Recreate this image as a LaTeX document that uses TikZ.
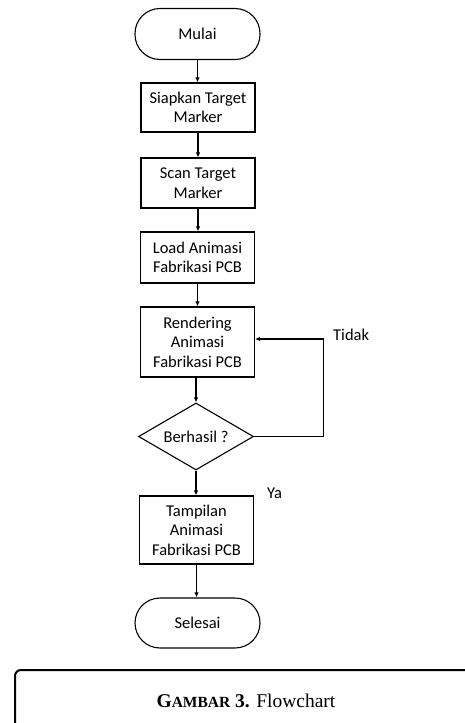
\documentclass[tikz,border=0pt]{standalone}
\usepackage{fontspec}
\setmainfont{Carlito}
\newfontfamily\capfont{Liberation Serif}
\usetikzlibrary{shapes.geometric,arrows.meta}

\tikzset{
  base/.style={draw=black, line width=1.1pt, align=center, inner sep=2pt,
               font=\fontsize{16.5}{19.5}\selectfont},
  terminal/.style={base, rectangle, rounded corners=25pt,
                   minimum width=125pt, minimum height=51pt},
  process/.style={base, rectangle, minimum width=114pt},
  decision/.style={base, diamond, inner sep=0pt, shape aspect=1.7,
                   minimum width=115pt, minimum height=67pt},
  flow/.style={draw=black, line width=1.1pt, -{Latex[length=5pt,width=4.5pt]}},
  lbl/.style={font=\fontsize{16.5}{19}\selectfont, inner sep=0pt},
}

\begin{document}
\begin{tikzpicture}[x=1pt, y=-1pt]
  \useasboundingbox (0,0) rectangle (465,723);

  % flowchart nodes
  \node[terminal] (mulai) at (197.5,34) {Mulai};
  \node[process, minimum height=49pt] (siapkan) at (198,107.5) {Siapkan Target\\Marker};
  \node[process, minimum height=50pt] (scan) at (198,183) {Scan Target\\Marker};
  \node[process, minimum height=51pt] (load) at (197.5,257.5) {Load Animasi\\Fabrikasi PCB};
  \node[process, minimum height=70pt] (render) at (197.5,342) {Rendering\\Animasi\\Fabrikasi PCB};
  \node[decision] (cek) at (196,436.5) {Berhasil ?};
  \node[process, minimum height=68pt] (tampil) at (196.5,530) {Tampilan\\Animasi\\Fabrikasi PCB};
  \node[terminal, minimum height=50pt] (selesai) at (197.5,623) {Selesai};

  % connectors
  \draw[flow] (mulai.south) -- (mulai.south |- siapkan.north);
  \draw[flow] (siapkan.south) -- (siapkan.south |- scan.north);
  \draw[flow] (scan.south) -- (scan.south |- load.north);
  \draw[flow] (load.south) -- (load.south |- render.north);
  \draw[flow] (render.south) -- (render.south -| cek.north) -- (cek.north);
  \draw[flow] (cek.south) -- (cek.south |- tampil.north);
  \draw[flow] (tampil.south) -- (tampil.south |- selesai.north);
  \coordinate (loopcorner) at (323.5,339);
  \draw[flow] (cek.east) -| (loopcorner) -- (render.east |- loopcorner);

  % branch labels
  \node[lbl, anchor=west] (tidak) at (333,335) {Tidak};
  \node[lbl, anchor=west] (ya) at (267,493) {Ya};

  % caption frame
  \node[draw=black, line width=2pt, rounded corners=6pt,
        minimum width=462pt, minimum height=62pt, inner sep=0pt]
        (caption) at (246,701)
        {\capfont\fontsize{19.5}{23}\selectfont
         {\bfseries G{\fontsize{15.5}{18}\selectfont AMBAR} 3.} Flowchart};
\end{tikzpicture}
\end{document}
